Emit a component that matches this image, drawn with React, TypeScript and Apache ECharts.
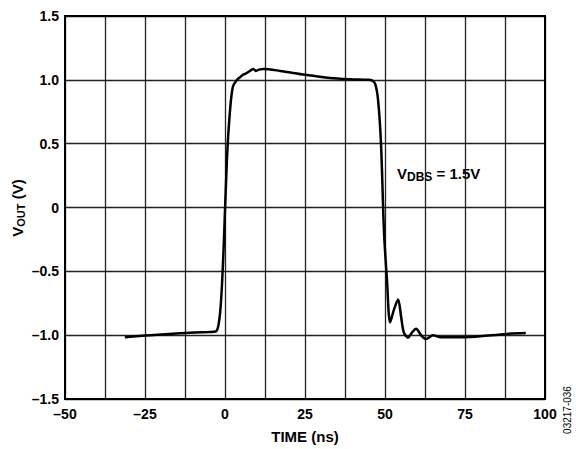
import React, { useEffect, useRef } from "react";
import * as echarts from "echarts";

const timeNs = [-31.3, -23.4, -14, -5, -2.8, -1.9, -1.2, -0.4, 0.6, 1.6, 2.5, 3.75, 4.7, 5.6, 6.6, 7.8, 8.75, 9.7, 10.6, 11.9, 17.2, 25, 32.8, 39, 44.7, 45.9, 46.9, 47.8, 48.75, 49.7, 50.6, 51.6, 52.8, 54.1, 55, 55.9, 57.2, 58.4, 59.7, 61.25, 62.8, 65, 67.2, 75, 88, 94];
const vout = [-1.016, -1.0, -0.985, -0.975, -0.97, -0.9, -0.72, -0.3, 0.375, 0.77, 0.95, 1.0, 1.02, 1.04, 1.05, 1.07, 1.085, 1.07, 1.08, 1.085, 1.07, 1.04, 1.015, 1.005, 1.0, 0.995, 0.97, 0.85, 0.5, -0.2, -0.56, -0.9, -0.8, -0.72, -0.85, -0.98, -1.02, -0.98, -0.95, -1.0, -1.03, -1.0, -1.016, -1.016, -0.99, -0.984];

const xTickLabels: Record<string, string> = { "-50": "–50", "-25": "–25", "0": "0", "25": "25", "50": "50", "75": "75", "100": "100" };
const yTickLabels: Record<string, string> = { "1.5": "1.5", "1": "1.0", "0.5": "0.5", "0": "0", "-0.5": "–0.5", "-1": "–1.0", "-1.5": "–1.5" };

const FONT = "'Liberation Sans', Arial, sans-serif";

export default function App() {
  const ref = useRef<HTMLDivElement>(null);
  useEffect(() => {
    if (!ref.current) return;
    const chart = echarts.init(ref.current, undefined, { renderer: "svg" });
    chart.setOption({
      animation: false,
      backgroundColor: "#fff",
      grid: { left: 65, top: 16, width: 480, height: 384, show: true, borderColor: "#000", borderWidth: 2, backgroundColor: "transparent", z: 3 },
      xAxis: {
        type: "value",
        min: -50,
        max: 100,
        interval: 12.5,
        axisLine: { show: false },
        axisTick: { show: false },
        splitLine: { show: true, lineStyle: { color: "#222", width: 1.3 } },
        axisLabel: {
          formatter: (v: number) => xTickLabels[String(v)] ?? "",
          color: "#000",
          fontFamily: FONT,
          fontWeight: "bold",
          fontSize: 14,
          margin: 8,
          showMaxLabel: true,
          showMinLabel: true,
        },
        name: "TIME (ns)",
        nameLocation: "middle",
        nameGap: 30,
        nameTextStyle: { color: "#000", fontFamily: FONT, fontWeight: "bold", fontSize: 15 },
      },
      yAxis: {
        type: "value",
        min: -1.5,
        max: 1.5,
        interval: 0.5,
        axisLine: { show: false },
        axisTick: { show: false },
        splitLine: { show: true, lineStyle: { color: "#222", width: 1.3 } },
        axisLabel: {
          formatter: (v: number) => yTickLabels[String(v)] ?? "",
          color: "#000",
          fontFamily: FONT,
          fontWeight: "bold",
          fontSize: 14,
          margin: 6,
        },
      },
      series: [
        {
          type: "line",
          data: timeNs.map((t, i) => [t, vout[i]]),
          showSymbol: false,
          smooth: 0.3,
          lineStyle: { color: "#000", width: 2.5 },
          z: 5,
        },
      ],
      graphic: [
        {
          type: "text",
          x: 17,
          y: 208,
          rotation: Math.PI / 2,
          style: {
            text: "V{sub|OUT} (V)",
            fill: "#000",
            font: `bold 15px ${FONT}`,
            align: "center",
            verticalAlign: "middle",
            rich: {
              sub: { fontSize: 11, fontWeight: "bold", fontFamily: FONT, verticalAlign: "bottom", padding: [7, 0, 0, 0] },
            },
          },
        },
        {
          type: "text",
          x: 397,
          y: 173,
          style: {
            text: "V{sub|DBS} = 1.5V",
            fill: "#000",
            font: `bold 15px ${FONT}`,
            align: "left",
            verticalAlign: "middle",
            rich: {
              sub: { fontSize: 12, fontWeight: "bold", fontFamily: FONT, verticalAlign: "bottom", padding: [7, 0, 0, 0] },
            },
          },
        },
        {
          type: "text",
          x: 567,
          y: 410,
          rotation: Math.PI / 2,
          style: {
            text: "03217-036",
            fill: "#000",
            font: `10px ${FONT}`,
            align: "center",
            verticalAlign: "middle",
          },
        },
      ],
    });
    return () => chart.dispose();
  }, []);
  return <div ref={ref} style={{ width: 576, height: 449, position: "absolute", left: 0, top: 0 }} />;
}
